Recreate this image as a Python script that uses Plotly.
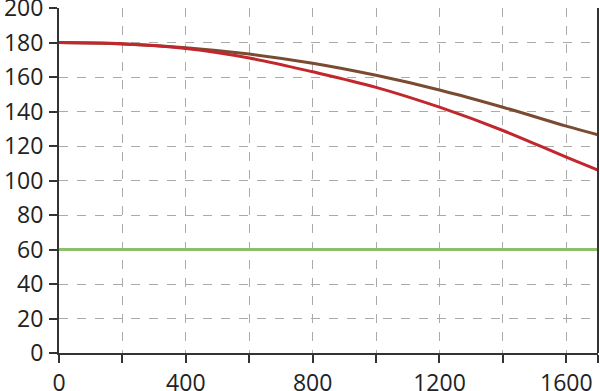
import plotly.graph_objects as go

x_vals = [0, 200, 400, 600, 800, 1000, 1200, 1400, 1600, 1700]
brown_vals = [180, 179.2, 177, 173.3, 168, 161, 152.5, 142.5, 131.5, 126.5]
red_vals = [180, 179.3, 176.5, 171, 163, 154, 142.5, 129, 113.5, 106]
green_x = [0, 1700]
green_vals = [60, 60]

x_ticks = [0, 200, 400, 600, 800, 1000, 1200, 1400, 1600, 1700]
x_labels = ["0", "", "400", "", "800", "", "1200", "", "1600", ""]
y_ticks = list(range(0, 201, 20))

fig = go.Figure()
fig.add_trace(go.Scatter(x=green_x, y=green_vals, mode="lines",
                         line=dict(color="#8cc068", width=3)))
fig.add_trace(go.Scatter(x=x_vals, y=brown_vals, mode="lines", line_shape="spline",
                         line=dict(color="#7a4b31", width=3)))
fig.add_trace(go.Scatter(x=x_vals, y=red_vals, mode="lines", line_shape="spline",
                         line=dict(color="#c1272d", width=3)))

fig.update_layout(
    width=600, height=391,
    margin=dict(l=59, r=2, t=8, b=38, autoexpand=False),
    paper_bgcolor="white", plot_bgcolor="white",
    showlegend=False,
    font=dict(family="Open Sans, sans-serif", size=23, color="#222"),
)
fig.update_xaxes(range=[0, 1700], tickvals=x_ticks, ticktext=x_labels,
                 showgrid=True, gridcolor="#aaaaaa", griddash="dash", gridwidth=1,
                 showline=True, linecolor="#333", linewidth=2,
                 ticks="outside", ticklen=8, tickwidth=2, tickcolor="#333",
                 ticklabeloverflow="allow",
                 zeroline=False, automargin=False)
fig.update_yaxes(range=[0, 200], tickvals=y_ticks,
                 showgrid=True, gridcolor="#aaaaaa", griddash="dash", gridwidth=1,
                 showline=True, linecolor="#333", linewidth=2,
                 ticks="outside", ticklen=8, tickwidth=2, tickcolor="#333",
                 ticklabelstandoff=1, ticklabeloverflow="allow",
                 zeroline=False, automargin=False)
fig.add_shape(type="line", xref="paper", yref="paper", x0=1, x1=1, y0=0, y1=1,
              line=dict(color="#333", width=2))
fig.write_html("out.html", config={"displayModeBar": False},
               post_script="document.body.style.margin='0';document.body.style.overflow='hidden';")
